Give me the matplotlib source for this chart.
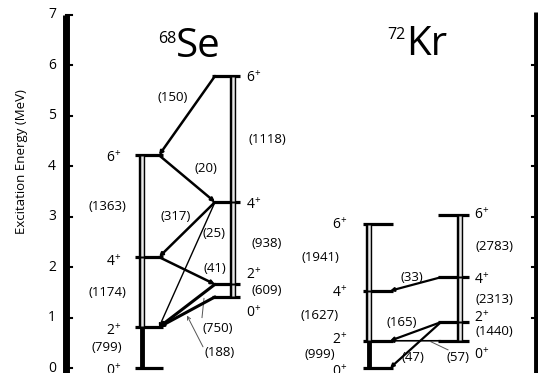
import numpy as np
import matplotlib
matplotlib.use("Agg")
from matplotlib import pyplot as plt

plt.rcParams['font.family'] = ['Open Sans', 'DejaVu Sans']
plt.rcParams['mathtext.fontset'] = 'custom'
plt.rcParams['mathtext.rm'] = 'Open Sans'

# level energies (MeV), index 0..3 = 0+,2+,4+,6+
spins = ["0", "2", "4", "6"]
se_left_E = [0.0, 0.81, 2.20, 4.22]
se_right_E = [1.41, 1.66, 3.29, 5.79]
kr_left_E = [0.0, 0.54, 1.53, 2.86]
kr_right_E = [0.54, 0.91, 1.80, 3.03]

# in-band labels (between consecutive levels)
se_left_gaps = ["(799)", "(1174)", "(1363)"]
se_right_gaps = ["(609)", "(938)", "(1118)"]
kr_left_gaps = ["(999)", "(1627)", "(1941)"]
kr_right_gaps = ["(1440)", "(2313)", "(2783)"]

# inter-band transitions: (from col, level, to col, level, label)
se_trans = [("R", 3, "L", 3, "(150)"), ("L", 3, "R", 2, "(20)"),
            ("R", 2, "L", 2, "(317)"), ("R", 2, "L", 1, "(25)"),
            ("L", 2, "R", 1, "(41)"), ("R", 1, "L", 1, "(188)"),
            ("R", 0, "L", 1, "(750)")]
kr_trans = [("R", 2, "L", 2, "(33)"), ("R", 1, "L", 1, "(165)"),
            ("R", 1, "L", 0, "(47)"), ("R", 0, "L", 1, "(57)")]

fig = plt.figure(figsize=(5.38, 3.73), dpi=100)
ax = fig.add_axes([0, 0, 1, 1])
ax.set_xlim(0, 538)
ax.set_ylim(-0.099, 7.297)
ax.axis('off')

# left energy axis
ax.plot([66, 66], [-0.2, 7.0], color='k', lw=5, solid_capstyle='butt')
for e in range(8):
    ax.plot([66, 72], [e, e], color='k', lw=1.5)
    ax.text(52, e, str(e), fontsize=10, ha='center', va='center')
ax.text(22, 4.1, "Excitation Energy (MeV)", rotation=90, fontsize=9.5,
        ha='center', va='center')
# right border
ax.plot([535.5, 535.5], [-0.2, 7.05], color='k', lw=3.5, solid_capstyle='butt')
for e in range(1, 7):
    ax.plot([532, 536], [e, e], color='k', lw=1.5)

def column(E, x0, x1, xv, gaps, side, solid_bottom, spin_dy, lab_x, gap_x):
    for e in E:
        ax.plot([x0, x1], [e, e], color='k', lw=2.3, solid_capstyle='butt')
    for i in range(len(E) - 1):
        if solid_bottom and i == 0:
            ax.plot([xv, xv], [E[i], E[i + 1]], color='k', lw=3.5,
                    solid_capstyle='butt')
        else:
            ax.plot([xv, xv], [E[i], E[i + 1]], color='k', lw=4.6,
                    solid_capstyle='butt')
            ax.plot([xv, xv], [E[i] + 0.02, E[i + 1] - 0.02], color='#e8e8e8',
                    lw=1.8, solid_capstyle='butt')
        ax.text(gap_x, (E[i] + E[i + 1]) / 2, gaps[i], fontsize=9.5,
                ha='center', va='center')
    ha = 'right' if side == 'L' else 'left'
    for s, e, dy in zip(spins, E, spin_dy):
        ax.text(lab_x, e + dy, r"$\mathrm{" + s + "}^{+}$", fontsize=10,
                ha=ha, va='center')

column(se_left_E, 135, 163, 142, se_left_gaps, 'L', True,
       [-0.06, -0.08, -0.1, -0.06], 121, 107)
column(se_right_E, 212, 240, 232.5, se_right_gaps, 'R', False,
       [-0.32, 0.18, -0.06, -0.04], 246, 267)
column(kr_left_E, 363, 393, 369, kr_left_gaps, 'L', True,
       [-0.08, 0.02, -0.04, -0.02], 347, 320)
column(kr_right_E, 438, 469, 459.5, kr_right_gaps, 'R', False,
       [-0.28, 0.08, -0.06, 0.0], 474, 494)

def transitions(trans, Lx, Rx, LE, RE, lws):
    for (c0, i0, c1, i1, lab), lw in zip(trans, lws):
        x0, e0 = (Lx, LE[i0]) if c0 == 'L' else (Rx, RE[i0])
        x1, e1 = (Lx, LE[i1]) if c1 == 'L' else (Rx, RE[i1])
        ax.annotate("", xy=(x1, e1), xytext=(x0, e0),
                    arrowprops=dict(arrowstyle='-|>', lw=lw, color='k',
                                    mutation_scale=5, shrinkA=0, shrinkB=0))

transitions(se_trans, 159, 215, se_left_E, se_right_E,
            [1.8, 1.8, 1.8, 1.0, 1.8, 2.2, 2.2])
transitions(kr_trans, 390, 441, kr_left_E, kr_right_E,
            [1.6, 1.6, 1.6, 1.2])

# transition labels
se_lab_pos = [(173, 5.37), (206, 3.95), (176, 3.01), (214, 2.66),
              (215, 1.98), (220, 0.30), (218, 0.79)]
for t, (x, e) in zip(se_trans, se_lab_pos):
    ax.text(x, e, t[4], fontsize=9.5, ha='center', va='center')
kr_lab_pos = [(412, 1.80), (402, 0.91), (413, 0.20), (458, 0.20)]
for t, (x, e) in zip(kr_trans, kr_lab_pos):
    ax.text(x, e, t[4], fontsize=9.5, ha='center', va='center')

# leader lines
ax.annotate("", xy=(187, 1.04), xytext=(203, 0.42),
            arrowprops=dict(arrowstyle='->', lw=0.7, color='#555555',
                            mutation_scale=6, shrinkA=0, shrinkB=0))
ax.plot([202, 204], [1.0, 1.38], color='#555555', lw=0.7)
ax.plot([448, 431], [0.36, 0.52], color='#555555', lw=0.7)

# nucleus names
ax.text(176, 6.45, "68", fontsize=11.5, ha='right', va='baseline')
ax.text(176, 6.17, "Se", fontsize=29, ha='left', va='baseline')
ax.text(406, 6.53, "72", fontsize=11.5, ha='right', va='baseline')
ax.text(406, 6.21, "Kr", fontsize=29, ha='left', va='baseline')

fig.savefig("out.png", dpi=100)
